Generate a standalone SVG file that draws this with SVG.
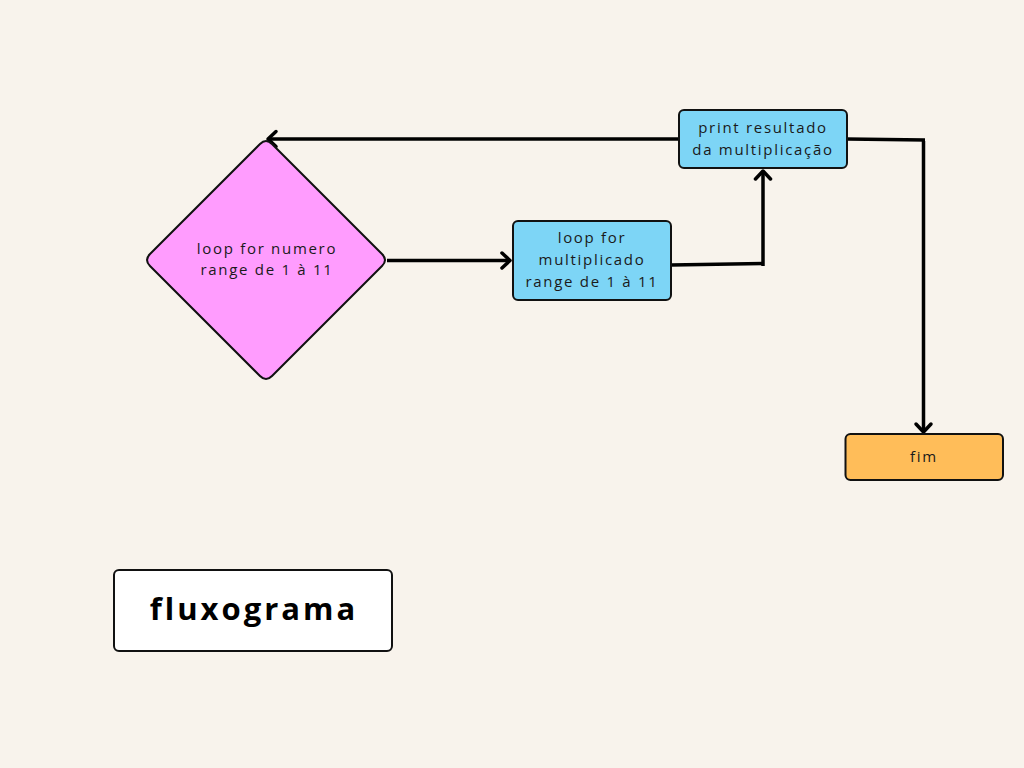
<svg xmlns="http://www.w3.org/2000/svg" width="1024" height="768" viewBox="0 0 1024 768">
<defs>
<style>
.lbl{font-family:"Open Sans","Noto Sans",sans-serif;font-size:15px;fill:#1a1a1a;text-anchor:middle;letter-spacing:1.7px}
.title{font-family:"Open Sans","Noto Sans",sans-serif;font-size:31px;font-weight:bold;fill:#000;text-anchor:middle;letter-spacing:3px}
.node{stroke:#111;stroke-width:2}
.conn{fill:none;stroke:#000;stroke-width:3.5;stroke-linejoin:miter}
.head{fill:none;stroke:#000;stroke-width:3.5;stroke-linecap:round;stroke-linejoin:round}
</style>
</defs>
<rect width="1024" height="768" fill="#f8f3ec"/>
<g id="connectors">
<path class="conn" d="M387 260.5 H510"/>
<polyline class="head" points="502,253 510,260.5 502,268"/>
<path class="conn" d="M671 265 L763 263.5"/>
<path class="conn" d="M763 266 V171"/>
<polyline class="head" points="755.5,179 763,171 770.5,179"/>
<path class="conn" d="M679 139 H268"/>
<polyline class="head" points="276,131.5 268,139 276,146.5"/>
<path class="conn" d="M847 139 L925 140"/>
<path class="conn" d="M923.5 141 V432"/>
<polyline class="head" points="916,424 923.5,432 931,424"/>
</g>
<g id="n1">
<path class="node" fill="#ff9cfe" d="M260 144 Q266 138 272 144 L382 254 Q388 260 382 266 L272 376 Q266 382 260 376 L150 266 Q144 260 150 254 Z"/>
<text class="lbl" x="267" y="254">loop for numero</text>
<text class="lbl" x="267" y="275">range de 1 à 11</text>
</g>
<g id="n2">
<rect class="node" x="513" y="221" width="158" height="79" rx="5" fill="#7dd5f6"/>
<text class="lbl" x="592" y="243">loop for</text>
<text class="lbl" x="592" y="265">multiplicado</text>
<text class="lbl" x="592" y="287">range de 1 à 11</text>
</g>
<g id="n3">
<rect class="node" x="679" y="110" width="168" height="58" rx="5" fill="#7dd5f6"/>
<text class="lbl" x="763" y="133">print resultado</text>
<text class="lbl" x="763" y="155">da multiplicação</text>
</g>
<g id="n4">
<rect class="node" x="845.5" y="434" width="157.5" height="46" rx="5" fill="#ffbd59"/>
<text class="lbl" x="924" y="462">fim</text>
</g>
<g id="n5">
<rect class="node" x="114" y="570" width="278" height="81" rx="5" fill="#ffffff"/>
<text class="title" x="254" y="620">fluxograma</text>
</g>
</svg>
